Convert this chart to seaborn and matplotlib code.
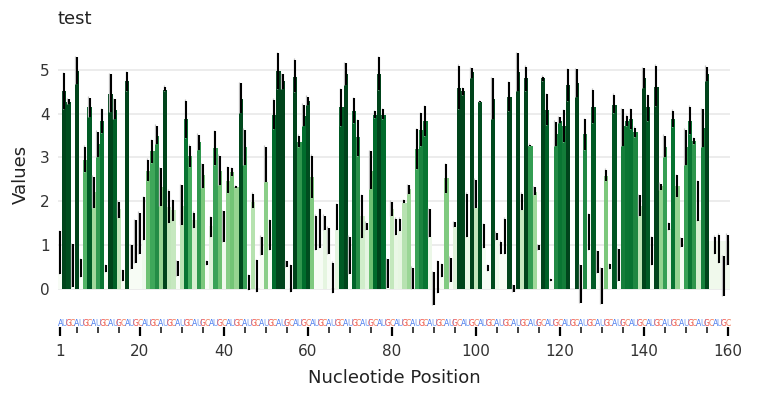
import numpy as np
import pandas as pd
import matplotlib
matplotlib.use("Agg")
import matplotlib.pyplot as plt
import seaborn as sns

# positions 1..160, bar heights and error-bar limits
positions = np.arange(1, 161)
values = [
    0.34, 4.53, 4.28, 0.04, 4.98, 0.27, 2.95, 4.15, 2.21, 3.30,
    3.84, 0.38, 4.45, 4.09, 1.81, 0.18, 4.76, 0.45, 0.59, 0.78,
    1.10, 2.70, 3.14, 3.50, 2.32, 4.55, 1.86, 1.79, 0.29, 1.90,
    3.87, 3.04, 1.56, 3.35, 2.59, 0.53, 1.42, 3.21, 2.70, 1.07,
    2.47, 2.66, 2.32, 4.34, 3.23, 0.00, 1.98, 0.00, 0.76, 2.44,
    0.88, 3.98, 4.98, 4.74, 0.49, 0.00, 4.85, 3.36, 3.96, 4.30,
    2.55, 0.89, 0.93, 1.35, 0.80, 0.00, 1.33, 4.16, 4.91, 0.34,
    4.07, 3.46, 1.65, 1.33, 2.70, 3.98, 4.92, 3.98, 0.02, 1.81,
    1.22, 1.31, 1.96, 2.27, 0.00, 3.20, 3.63, 3.84, 1.19, 0.00,
    0.00, 0.27, 2.53, 0.15, 1.41, 4.59, 4.51, 1.19, 4.95, 1.84,
    4.28, 0.93, 0.40, 4.34, 1.10, 0.78, 0.80, 4.39, 0.00, 4.96,
    1.79, 4.81, 3.27, 2.22, 0.88, 4.81, 4.09, 0.18, 3.54, 3.84,
    3.73, 4.67, 0.00, 4.70, 0.00, 3.54, 0.88, 4.16, 0.36, 0.00,
    2.57, 0.44, 4.21, 0.18, 3.71, 3.84, 3.87, 3.58, 1.90, 4.82,
    4.15, 0.53, 4.62, 2.34, 3.25, 1.37, 3.87, 2.34, 0.95, 3.23,
    3.84, 3.37, 1.56, 3.68, 4.92, 1.08, 1.08, 1.08, 1.08, 1.08,
]
err_low = [
    0.34, 4.12, 4.22, 0.04, 4.68, 0.27, 2.66, 3.92, 1.84, 3.01,
    3.55, 0.38, 4.03, 3.87, 1.61, 0.18, 4.53, 0.45, 0.59, 0.78,
    1.10, 2.45, 2.87, 3.30, 1.89, 4.51, 1.50, 1.54, 0.29, 1.45,
    3.44, 2.79, 1.39, 3.17, 2.30, 0.53, 1.19, 2.82, 2.38, 1.07,
    2.18, 2.57, 2.30, 4.01, 2.82, -0.04, 1.84, -0.08, 0.76, 2.44,
    0.88, 3.65, 4.57, 4.57, 0.49, -0.09, 4.49, 3.23, 3.73, 4.21,
    2.07, 0.89, 0.93, 1.35, 0.80, -0.11, 1.33, 3.73, 4.66, 0.34,
    3.78, 3.03, 1.16, 1.33, 2.27, 3.90, 4.55, 3.87, 0.02, 1.65,
    1.22, 1.31, 1.96, 2.17, 0.00, 2.74, 3.26, 3.49, 1.19, -0.38,
    -0.11, 0.27, 2.18, 0.15, 1.41, 4.11, 4.44, 1.19, 4.81, 1.84,
    4.26, 0.93, 0.40, 3.87, 1.10, 0.78, 0.80, 4.07, -0.08, 4.53,
    1.79, 4.51, 3.26, 2.13, 0.88, 4.76, 3.74, 0.18, 3.27, 3.78,
    3.36, 4.30, np.nan, 4.38, -0.34, 3.18, 0.88, 3.78, 0.36, -0.36,
    2.46, 0.44, 4.01, 0.18, 3.27, 3.73, 3.65, 3.46, 1.67, 4.60,
    3.84, 0.53, 4.17, 2.25, 3.01, 1.35, 3.69, 2.09, 0.95, 2.82,
    3.54, 3.30, 1.54, 3.25, 4.76, np.nan, 0.80, 0.59, -0.18, 0.53,
]
err_high = [
    1.31, 4.93, 4.34, 1.01, 5.30, 0.67, 3.25, 4.37, 2.56, 3.59,
    4.11, 0.53, 4.91, 4.34, 1.99, 0.42, 4.95, 0.99, 1.56, 1.74,
    2.09, 2.95, 3.39, 3.73, 2.75, 4.62, 2.24, 2.02, 0.62, 2.36,
    4.30, 3.27, 1.74, 3.52, 2.85, 0.63, 1.64, 3.61, 3.04, 1.77,
    2.78, 2.75, 2.34, 4.70, 3.64, 0.30, 2.17, 0.65, 1.19, 3.25,
    1.56, 4.32, 5.39, 4.91, 0.62, 0.53, 5.24, 3.50, 4.21, 4.39,
    3.04, 1.67, 1.81, 1.67, 1.39, 0.59, 1.93, 4.57, 5.16, 1.19,
    4.36, 3.86, 2.13, 1.51, 3.14, 4.06, 5.29, 4.11, 0.67, 1.99,
    1.60, 1.60, 2.03, 2.37, 0.48, 3.65, 4.02, 4.18, 1.81, 0.37,
    0.62, 0.55, 2.85, 0.71, 1.52, 5.10, 4.59, 2.17, 5.05, 2.49,
    4.29, 1.48, 0.53, 4.82, 1.28, 1.07, 1.60, 4.72, 0.08, 5.39,
    2.17, 5.08, 3.29, 2.32, 0.99, 4.85, 4.45, 0.21, 3.82, 3.93,
    4.09, 5.02, np.nan, 5.02, 0.53, 3.88, 1.70, 4.55, 0.85, 0.46,
    2.72, 0.55, 4.44, 0.90, 4.11, 3.96, 4.11, 3.68, 2.13, 5.05,
    4.43, 1.18, 5.10, 2.40, 3.50, 1.50, 4.07, 2.59, 1.16, 3.64,
    4.16, 3.44, 2.45, 4.11, 5.08, np.nan, 1.19, 1.23, 0.74, 1.23,
]
sequence = "AUGC" * 40
base_colors = {"A": "#4a7cf0", "U": "#6f9cf2", "G": "#f0524e", "C": "#f07a5a"}

df = pd.DataFrame({"pos": positions, "value": values,
                   "lo": err_low, "hi": err_high})

fig = plt.figure(figsize=(7.58, 4.01), dpi=100)
ax = fig.add_axes([58 / 758, 95 / 401, 672 / 758, 263 / 401])
ax_seq = fig.add_axes([58 / 758, 74 / 401, 672 / 758, 12 / 401])

sns.barplot(data=df, x="pos", y="value", native_scale=True, width=1.0,
            errorbar=None, color="green", linewidth=0, ax=ax)

# colour each bar by its value
cmap = sns.color_palette("Greens", as_cmap=True)
norm = plt.Normalize(0.9, 4.4)
for patch, v in zip(ax.patches, df["value"]):
    patch.set_facecolor(cmap(norm(v)))
    patch.set_edgecolor("none")

ok = df.dropna(subset=["lo", "hi"])
ax.vlines(ok["pos"] - 0.36, ok["lo"], ok["hi"] + 0.03, color="#c4c4c4", lw=0.9, zorder=3)
ax.vlines(ok["pos"], ok["lo"], ok["hi"], color="black", lw=1.5, zorder=4)

ax.set_xlim(0.5, 160.5)
ax.set_ylim(-0.4, 5.62)
ax.set_yticks(range(0, 6))
ax.grid(axis="y", color="#ebebeb", lw=1.3)
ax.grid(axis="x", visible=False)
ax.set_axisbelow(True)
ax.set_xticks([])
ax.set_xlabel("")
ax.set_ylabel("Values", fontsize=13, color="#222222", labelpad=7)
ax.tick_params(axis="y", length=0, labelsize=11, labelcolor="#333333", pad=6)
for s in ax.spines.values():
    s.set_visible(False)
ax.set_facecolor("white")
ax.set_title("test", loc="left", fontsize=13, color="#222222", pad=14)

# sequence track
for p, ch in zip(positions, sequence):
    ax_seq.text(p, 0.3, ch, color=base_colors[ch], ha="center", va="center",
                fontsize=5.6)
ax_seq.set_xlim(0.5, 160.5)
ax_seq.set_ylim(0, 1)
ax_seq.set_yticks([])
for s in ax_seq.spines.values():
    s.set_visible(False)
ax_seq.set_xticks([1, 20, 40, 60, 80, 100, 120, 140, 160])
ax_seq.set_xticks([p for p in range(5, 160, 5) if p % 20 != 0], minor=True)
ax_seq.tick_params(axis="x", which="major", length=6.5, width=1.6, color="black",
                   labelsize=11, labelcolor="#333333", pad=6)
ax_seq.tick_params(axis="x", which="minor", length=4, width=1.3, color="#333333")
ax_seq.set_xlabel("Nucleotide Position", fontsize=13, color="#222222", labelpad=7)

fig.savefig("out.png", dpi=100, facecolor="white")
